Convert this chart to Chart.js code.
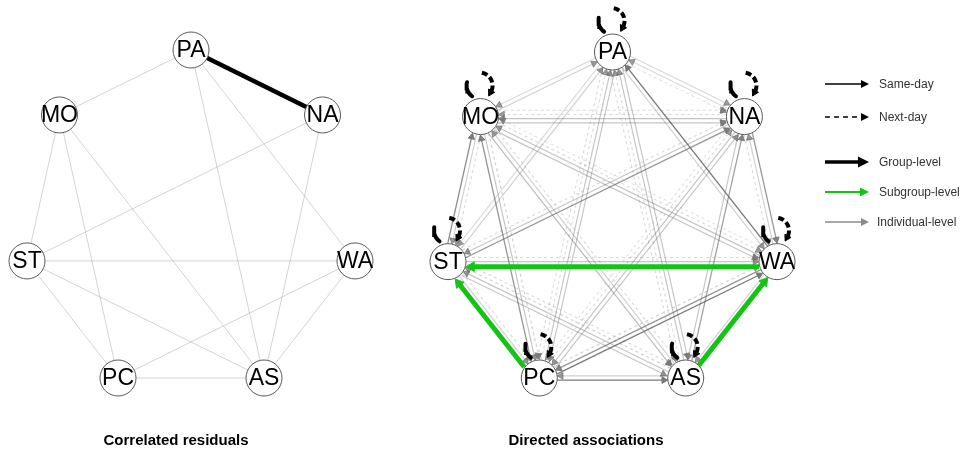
<!DOCTYPE html>
<html>
<head>
<meta charset="utf-8">
<script src="https://cdn.jsdelivr.net/npm/chart.js@4.4.0/dist/chart.umd.min.js"></script>
<style>
  html, body { margin: 0; padding: 0; background: #fff; }
  #wrap { width: 969px; height: 455px; position: relative; }
</style>
</head>
<body>
<div id="wrap"><canvas id="net" width="969" height="455"></canvas></div>
<script>
// ---- variables (clockwise from the top of the circle) ----
const nodeNames = ['PA', 'NA', 'WA', 'AS', 'PC', 'ST', 'MO'];

// ---- correlated residuals (undirected, contemporaneous) ----
const corrFrom   = ['PA', 'PA', 'PA', 'PA', 'MO', 'MO', 'MO', 'NA', 'NA', 'ST', 'ST', 'ST', 'WA', 'WA', 'PC'];
const corrTo     = ['NA', 'MO', 'AS', 'WA', 'ST', 'PC', 'AS', 'ST', 'AS', 'WA', 'PC', 'AS', 'PC', 'AS', 'AS'];
const corrWeight = [0.45, 0.08, 0.08, 0.08, 0.08, 0.08, 0.08, 0.08, 0.08, 0.08, 0.08, 0.08, 0.08, 0.08, 0.08];

// ---- directed associations between variables ----
const dirFrom = [
  'PA', 'NA', 'PA',
  'WA', 'PA',
  'PA', 'AS', 'AS', 'PA',
  'PA', 'PC', 'PC', 'PA',
  'ST', 'PA',
  'MO', 'PA',
  'NA', 'WA', 'NA',
  'AS', 'NA',
  'PC', 'NA', 'PC', 'NA',
  'ST', 'NA', 'ST',
  'MO', 'NA', 'NA', 'MO',
  'AS', 'WA',
  'PC', 'WA', 'PC',
  'WA', 'ST', 'ST',
  'MO', 'WA', 'MO', 'WA',
  'PC', 'AS',
  'ST', 'AS', 'AS', 'ST',
  'MO', 'AS', 'MO',
  'PC', 'ST', 'ST',
  'PC', 'MO', 'MO',
  'ST', 'MO', 'MO'
];
const dirTo = [
  'NA', 'PA', 'NA',
  'PA', 'WA',
  'AS', 'PA', 'PA', 'AS',
  'PC', 'PA', 'PA', 'PC',
  'PA', 'ST',
  'PA', 'MO',
  'WA', 'NA', 'WA',
  'NA', 'AS',
  'NA', 'PC', 'NA', 'PC',
  'NA', 'ST', 'NA',
  'NA', 'MO', 'MO', 'NA',
  'WA', 'AS',
  'WA', 'PC', 'WA',
  'ST', 'WA', 'WA',
  'WA', 'MO', 'WA', 'MO',
  'AS', 'PC',
  'AS', 'ST', 'ST', 'AS',
  'AS', 'MO', 'AS',
  'ST', 'PC', 'PC',
  'MO', 'PC', 'PC',
  'MO', 'ST', 'ST'
];
const dirWeight = [
  0.20, 0.20, 0.15,
  0.70, 0.25,
  0.30, 0.30, 0.20, 0.20,
  0.30, 0.30, 0.20, 0.20,
  0.25, 0.20,
  0.25, 0.20,
  0.55, 0.25, 0.20,
  0.50, 0.30,
  0.30, 0.30, 0.20, 0.15,
  0.55, 0.30, 0.20,
  0.30, 0.30, 0.20, 0.20,
  1.00, 0.25,
  0.70, 0.55, 0.25,
  1.00, 0.30, 0.20,
  0.30, 0.30, 0.20, 0.15,
  0.70, 0.25,
  0.30, 0.30, 0.25, 0.20,
  0.35, 0.25, 0.20,
  1.00, 0.25, 0.20,
  0.55, 0.30, 0.25,
  0.60, 0.25, 0.20
];
const dirLag = [
  'same', 'same', 'next',
  'same', 'same',
  'same', 'same', 'next', 'next',
  'same', 'same', 'next', 'next',
  'same', 'same',
  'same', 'same',
  'same', 'same', 'next',
  'same', 'same',
  'same', 'same', 'next', 'next',
  'same', 'same', 'next',
  'same', 'same', 'next', 'next',
  'same', 'same',
  'same', 'same', 'next',
  'same', 'same', 'next',
  'same', 'same', 'next', 'next',
  'same', 'same',
  'same', 'same', 'next', 'next',
  'same', 'same', 'next',
  'same', 'same', 'next',
  'same', 'same', 'next',
  'same', 'same', 'next'
];
const dirLevel = [
  'ind', 'ind', 'ind',
  'ind', 'ind',
  'ind', 'ind', 'ind', 'ind',
  'ind', 'ind', 'ind', 'ind',
  'ind', 'ind',
  'ind', 'ind',
  'ind', 'ind', 'ind',
  'ind', 'ind',
  'ind', 'ind', 'ind', 'ind',
  'ind', 'ind', 'ind',
  'ind', 'ind', 'ind', 'ind',
  'sub', 'ind',
  'ind', 'ind', 'ind',
  'sub', 'ind', 'ind',
  'ind', 'ind', 'ind', 'ind',
  'ind', 'ind',
  'ind', 'ind', 'ind', 'ind',
  'ind', 'ind', 'ind',
  'sub', 'ind', 'ind',
  'ind', 'ind', 'ind',
  'ind', 'ind', 'ind'
];

// group-level autoregressive paths (same-day and next-day) for every variable
const autoSame = ['PA', 'NA', 'WA', 'AS', 'PC', 'ST', 'MO'];
const autoNext = ['PA', 'NA', 'WA', 'AS', 'PC', 'ST', 'MO'];

// ---- panel titles and legend entries ----
const panelTitles = ['Correlated residuals', 'Directed associations'];
const legendLabels = ['Same-day', 'Next-day', 'Group-level', 'Subgroup-level', 'Individual-level'];

// ---------------------------------------------------------------
// circle layout, stretched to fill each square panel
const NODE_R = 18;
const panels = [
  { cx: 191, cy: 214, hw: 164, hh: 164 },
  { cx: 612.5, cy: 215, hw: 164.5, hh: 163 }
];
const rawLayout = nodeNames.map((_, k) => {
  const a = Math.PI / 2 - k * 2 * Math.PI / 7;
  return { x: Math.cos(a), y: Math.sin(a) };
});
const xs = rawLayout.map(p => p.x), ys = rawLayout.map(p => p.y);
const xMin = Math.min(...xs), xMax = Math.max(...xs), yMin = Math.min(...ys), yMax = Math.max(...ys);
function nodePos(panel, name) {
  const p = rawLayout[nodeNames.indexOf(name)];
  const nx = (p.x - xMin) / (xMax - xMin) * 2 - 1;
  const ny = (p.y - yMin) / (yMax - yMin) * 2 - 1;
  const P = panels[panel];
  return { x: P.cx + nx * P.hw, y: P.cy - ny * P.hh };
}

const GREEN = '#14c414';
const datasets = [];

// nodes of both panels (drawn on top of edges)
const nodePoints = [];
[0, 1].forEach(pi => nodeNames.forEach(n => nodePoints.push(Object.assign({ label: n }, nodePos(pi, n)))));
datasets.push({
  label: 'nodes',
  data: nodePoints,
  pointRadius: NODE_R,
  pointBackgroundColor: '#ffffff',
  pointBorderColor: '#5a5a5a',
  pointBorderWidth: 1,
  showLine: false,
  order: 0,
  clip: false
});

// undirected correlation edges
corrFrom.forEach((f, i) => {
  const a = nodePos(0, f), b = nodePos(0, corrTo[i]);
  const w = corrWeight[i];
  const strong = w >= 0.3;
  datasets.push({
    data: [a, b],
    showLine: true,
    borderColor: strong ? '#000000' : 'rgba(120,120,120,0.32)',
    borderWidth: strong ? w * 10 : 1,
    pointRadius: 0,
    order: 2,
    clip: false
  });
});

// directed edges, parallel edges between a pair are spread apart
const pairCount = {}, pairSeen = {};
const pairKey = (a, b) => [a, b].sort((p, q) => nodeNames.indexOf(p) - nodeNames.indexOf(q)).join('-');
dirFrom.forEach((f, i) => { const k = pairKey(f, dirTo[i]); pairCount[k] = (pairCount[k] || 0) + 1; });
dirFrom.forEach((f, i) => {
  const t = dirTo[i];
  const k = pairKey(f, t);
  const idx = pairSeen[k] = (pairSeen[k] === undefined ? 0 : pairSeen[k] + 1);
  const n = pairCount[k];
  const [c1, c2] = k.split('-');
  const A = nodePos(1, c1), B = nodePos(1, c2);
  const len = Math.hypot(B.x - A.x, B.y - A.y);
  const nx = -(B.y - A.y) / len, ny = (B.x - A.x) / len;
  const level = dirLevel[i], w = dirWeight[i];
  const off = (idx - (n - 1) / 2) * (level === 'sub' ? 5 : 4.2);
  const s = nodePos(1, f), e = nodePos(1, t);
  const ux = (e.x - s.x) / len, uy = (e.y - s.y) / len;
  const head = level === 'sub' ? 5.5 : 3.8;
  const p1 = { x: s.x + ux * NODE_R + nx * off, y: s.y + uy * NODE_R + ny * off };
  const p2 = { x: e.x - ux * (NODE_R + head) + nx * off, y: e.y - uy * (NODE_R + head) + ny * off };
  const rot = Math.atan2(ux, -uy) * 180 / Math.PI;
  const line = level === 'sub' ? GREEN : `rgba(95,95,95,${Math.min(1, w * 1.2)})`;
  const headCol = level === 'sub' ? GREEN : `rgba(115,115,115,${Math.min(1, 0.6 + w * 0.5)})`;
  datasets.push({
    data: [p1, p2],
    showLine: true,
    borderColor: line,
    borderWidth: level === 'sub' ? 5 : 1 + w * 0.5,
    borderDash: dirLag[i] === 'next' ? [3, 3] : [],
    pointRadius: [0, head],
    pointStyle: 'triangle',
    rotation: [0, rot],
    pointBackgroundColor: headCol,
    pointBorderColor: headCol,
    pointBorderWidth: 1,
    order: level === 'sub' ? 1 : 3,
    clip: false
  });
});

// self-loops: solid (same-day) arc on the left, dashed (next-day) arc on the right
function arc(c, r, a0, a1, steps) {
  const pts = [];
  for (let i = 0; i <= steps; i++) {
    const a = (a0 + (a1 - a0) * i / steps) * Math.PI / 180;
    pts.push({ x: c.x + r * Math.cos(a), y: c.y + r * Math.sin(a) });
  }
  return pts;
}
autoSame.forEach(nm => {
  const p = nodePos(1, nm);
  const c = { x: p.x - 1, y: p.y - 31 };
  datasets.push({
    data: arc(c, 13, 125, 195, 10),
    showLine: true, borderColor: '#000', borderWidth: 4, borderCapStyle: 'round',
    pointRadius: 0, order: 1, clip: false
  });
});
autoNext.forEach(nm => {
  const p = nodePos(1, nm);
  const c = { x: p.x - 1, y: p.y - 31 };
  const pts = arc(c, 13, 280, 392, 16);
  const last = pts[pts.length - 1], prev = pts[pts.length - 2];
  const rot = Math.atan2(last.x - prev.x, -(last.y - prev.y)) * 180 / Math.PI;
  const radii = pts.map((_, i) => i === pts.length - 1 ? 4 : 0);
  const rots = pts.map((_, i) => i === pts.length - 1 ? rot : 0);
  datasets.push({
    data: pts,
    showLine: true, borderColor: '#000', borderWidth: 4, borderDash: [6, 3],
    pointRadius: radii, pointStyle: 'triangle', rotation: rots,
    pointBackgroundColor: '#000', pointBorderColor: '#000', pointBorderWidth: 1,
    order: 1, clip: false
  });
});

// node labels, panel titles and the legend
const decorations = {
  id: 'decorations',
  afterDatasetsDraw(chart) {
    const ctx = chart.ctx;
    const meta = chart.getDatasetMeta(0);
    ctx.save();
    ctx.fillStyle = '#000';
    ctx.font = '23px "Liberation Sans", Arial, sans-serif';
    ctx.textAlign = 'center';
    ctx.textBaseline = 'middle';
    meta.data.forEach((el, i) => ctx.fillText(nodePoints[i].label, el.x, el.y + 1));

    ctx.font = 'bold 15px "Liberation Sans Narrow", "Liberation Sans", Arial, sans-serif';
    ctx.fillStyle = '#000';
    ctx.fillText(panelTitles[0], 176, 441);
    ctx.fillText(panelTitles[1], 586, 441);

    // legend
    const x0 = 825, x1 = 869;
    const rows = [
      { y: 84, col: '#000', w: 1.4, dash: [], head: 4 },
      { y: 117, col: '#000', w: 1.4, dash: [5, 4], head: 4 },
      { y: 162, col: '#000', w: 3.5, dash: [], head: 5.5 },
      { y: 192, col: GREEN, w: 2.2, dash: [], head: 4.5 },
      { y: 222, col: '#8a8a8a', w: 1.4, dash: [], head: 4 }
    ];
    rows.forEach((r, i) => {
      ctx.strokeStyle = r.col;
      ctx.fillStyle = r.col;
      ctx.lineWidth = r.w;
      ctx.setLineDash(r.dash);
      ctx.beginPath();
      ctx.moveTo(x0, r.y);
      ctx.lineTo(x1 - r.head * 1.5, r.y);
      ctx.stroke();
      ctx.setLineDash([]);
      ctx.beginPath();
      ctx.moveTo(x1, r.y);
      ctx.lineTo(x1 - r.head * 2, r.y - r.head);
      ctx.lineTo(x1 - r.head * 2, r.y + r.head);
      ctx.closePath();
      ctx.fill();
      ctx.fillStyle = '#333';
      ctx.font = '12px "Liberation Sans", Arial, sans-serif';
      ctx.textAlign = 'left';
      ctx.fillText(legendLabels[i], i === 4 ? 877 : 879, r.y + 1);
    });
    ctx.restore();
  }
};

new Chart(document.getElementById('net'), {
  type: 'scatter',
  data: { datasets },
  options: {
    responsive: false,
    animation: false,
    events: [],
    layout: { padding: 0, autoPadding: false },
    plugins: { legend: { display: false }, tooltip: { enabled: false } },
    scales: {
      x: { type: 'linear', min: 0, max: 969, display: false },
      y: { type: 'linear', min: 0, max: 455, reverse: true, display: false }
    }
  },
  plugins: [decorations]
});
</script>
</body>
</html>
